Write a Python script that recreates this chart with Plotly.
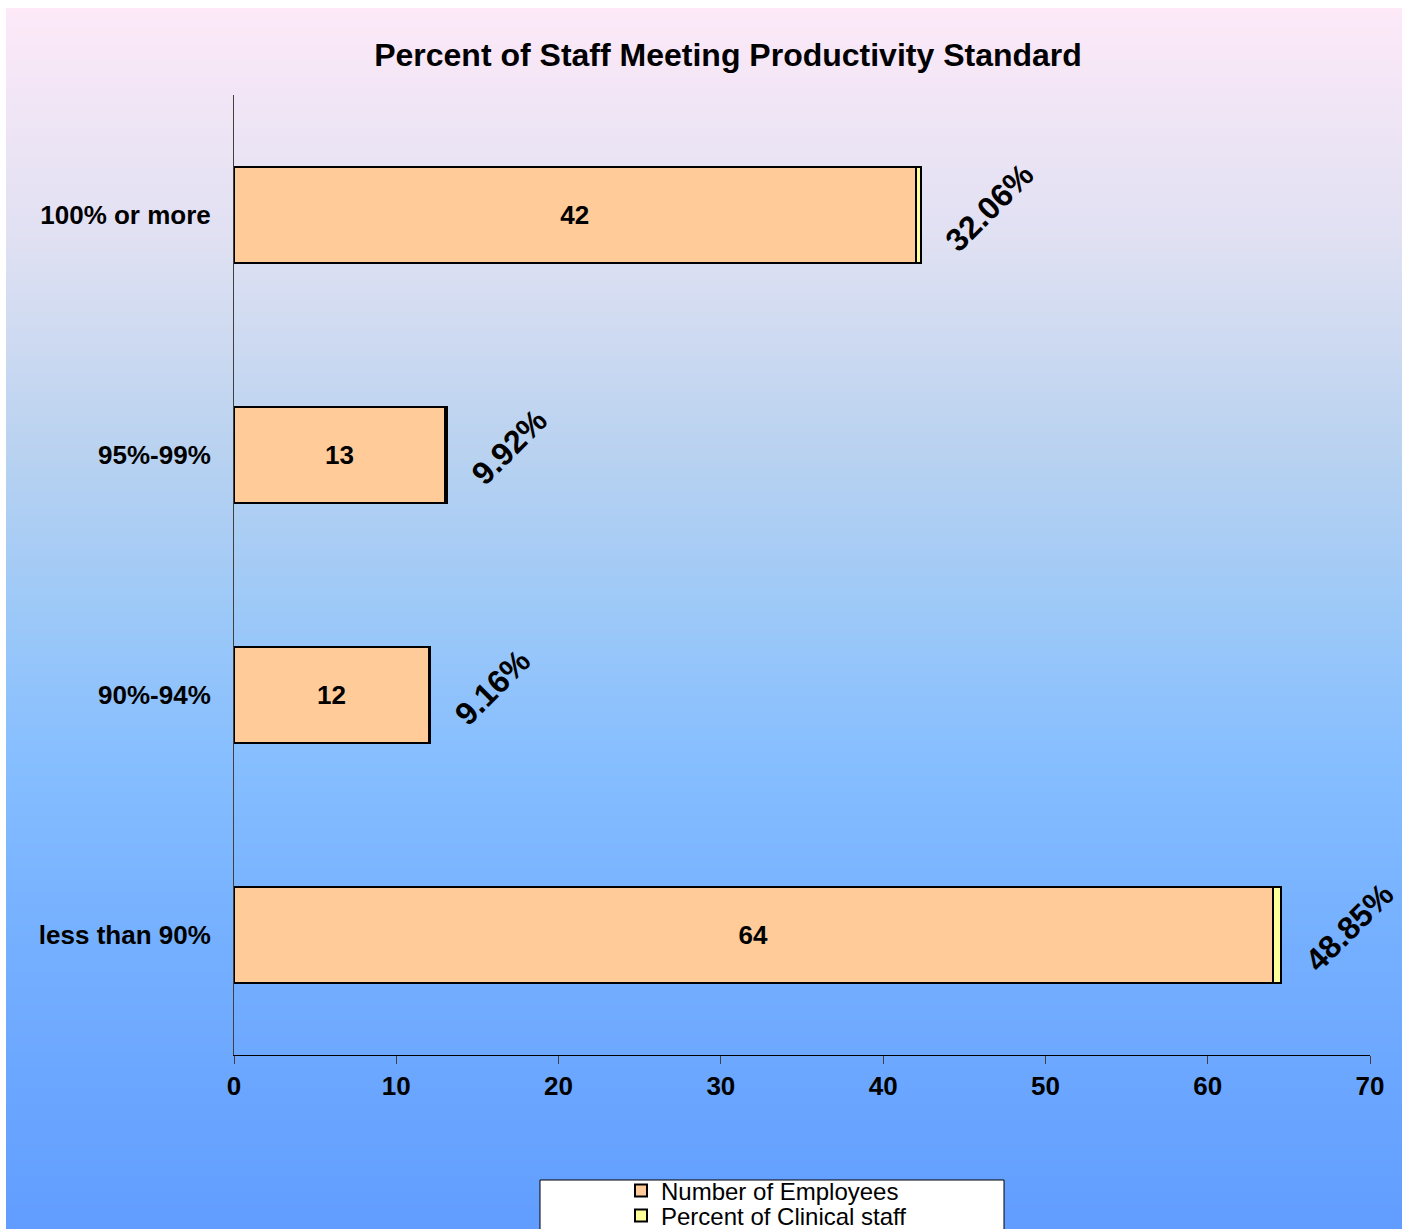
import plotly.graph_objects as go

# ---- data ----
categories = ["100% or more", "95%-99%", "90%-94%", "less than 90%"]
employees = [42, 13, 12, 64]
clinical_share = [0.3206, 0.0992, 0.0916, 0.4885]
x_ticks = [0, 10, 20, 30, 40, 50, 60, 70]

FONT = "Liberation Sans, Arial, sans-serif"
W, H = 1402, 1229
ML, MR, MT, MB = 234, 32, 95, 174
PW, PH = W - ML - MR, H - MT - MB


def px_to_paper_x(px):
    return (px - ML) / PW


def px_to_paper_y(py):
    return (H - MB - py) / PH


fig = go.Figure()

fig.add_trace(go.Bar(
    name="Number of Employees",
    y=categories, x=employees, orientation="h",
    marker=dict(color="#FFCC99", line=dict(color="black", width=2)),
    text=[str(v) for v in employees],
    textposition="inside", insidetextanchor="middle", textangle=0,
    textfont=dict(family=FONT, size=26, color="black", weight="bold"),
    legend="legend",
))
fig.add_trace(go.Bar(
    name="Percent of Clinical staff",
    y=categories, x=clinical_share, orientation="h",
    marker=dict(color="#FFFF99", line=dict(color="black", width=2)),
    legend="legend2",
))

# rotated percentage labels past each stacked bar
for cat, n, share in zip(categories, employees, clinical_share):
    fig.add_annotation(
        x=n + share, y=cat, xref="x", yref="y",
        text=f"{share:.2%}", showarrow=False, textangle=-45,
        xanchor="left", yanchor="middle", xshift=15, yshift=8,
        font=dict(family=FONT, size=32, color="black", weight="bold"),
    )

# vertical background gradient (pink at top to blue at bottom)
stops = [
    (8, (253, 233, 248)),
    (250, (222, 224, 242)),
    (450, (185, 210, 240)),
    (620, (155, 200, 248)),
    (760, (134, 190, 255)),
    (950, (116, 175, 255)),
    (1229, (97, 157, 255)),
]


def grad_color(py):
    for (y0, c0), (y1, c1) in zip(stops[:-1], stops[1:]):
        if y0 <= py <= y1:
            t = (py - y0) / (y1 - y0)
            return "rgb(%d,%d,%d)" % tuple(round(a + (b - a) * t) for a, b in zip(c0, c1))
    return "rgb(%d,%d,%d)" % stops[-1][1]


shapes = []
step = 4
y = 8
while y < H:
    y2 = min(y + step, H + 2)
    shapes.append(dict(
        type="rect", xref="paper", yref="paper", layer="below",
        x0=px_to_paper_x(6), x1=px_to_paper_x(W + 2),
        y0=px_to_paper_y(y2 + 0.6), y1=px_to_paper_y(y),
        fillcolor=grad_color(y + step / 2), line=dict(width=0),
    ))
    y += step

# legend box
shapes.append(dict(
    type="rect", xref="paper", yref="paper", layer="above",
    x0=px_to_paper_x(540), x1=px_to_paper_x(1004),
    y0=px_to_paper_y(1240), y1=px_to_paper_y(1180),
    fillcolor="white", line=dict(color="black", width=1),
))

legend_style = dict(
    bgcolor="rgba(0,0,0,0)", borderwidth=0,
    font=dict(family=FONT, size=24, color="black"),
    xanchor="left", yanchor="middle", itemwidth=30,
)

fig.update_layout(
    width=W, height=H,
    margin=dict(l=ML, r=MR, t=MT, b=MB, autoexpand=False),
    paper_bgcolor="white", plot_bgcolor="rgba(0,0,0,0)",
    barmode="stack", bargap=0.6,
    showlegend=True,
    title=dict(
        text="Percent of Staff Meeting Productivity Standard",
        x=px_to_paper_x(728), xref="paper", xanchor="center",
        y=1 - 55 / H, yref="container", yanchor="middle",
        font=dict(family=FONT, size=32, color="black", weight="bold"),
    ),
    xaxis=dict(
        range=[0, 70], tickvals=x_ticks, ticktext=[str(v) for v in x_ticks],
        showgrid=False, zeroline=False,
        showline=True, linecolor="black", linewidth=1,
        ticks="outside", ticklen=8, tickcolor="#404040", tickwidth=1,
        tickfont=dict(family=FONT, size=26, color="black", weight="bold"),
    ),
    yaxis=dict(
        categoryorder="array", categoryarray=categories, autorange="reversed",
        showgrid=False, zeroline=False,
        showline=True, linecolor="#404040", linewidth=1,
        ticks="", ticklabelstandoff=17,
        tickfont=dict(family=FONT, size=26, color="black", weight="bold"),
    ),
    legend=dict(x=px_to_paper_x(621), y=px_to_paper_y(1191), **legend_style),
    legend2=dict(x=px_to_paper_x(621), y=px_to_paper_y(1216), **legend_style),
    shapes=shapes,
)

fig.write_html("out.html")
